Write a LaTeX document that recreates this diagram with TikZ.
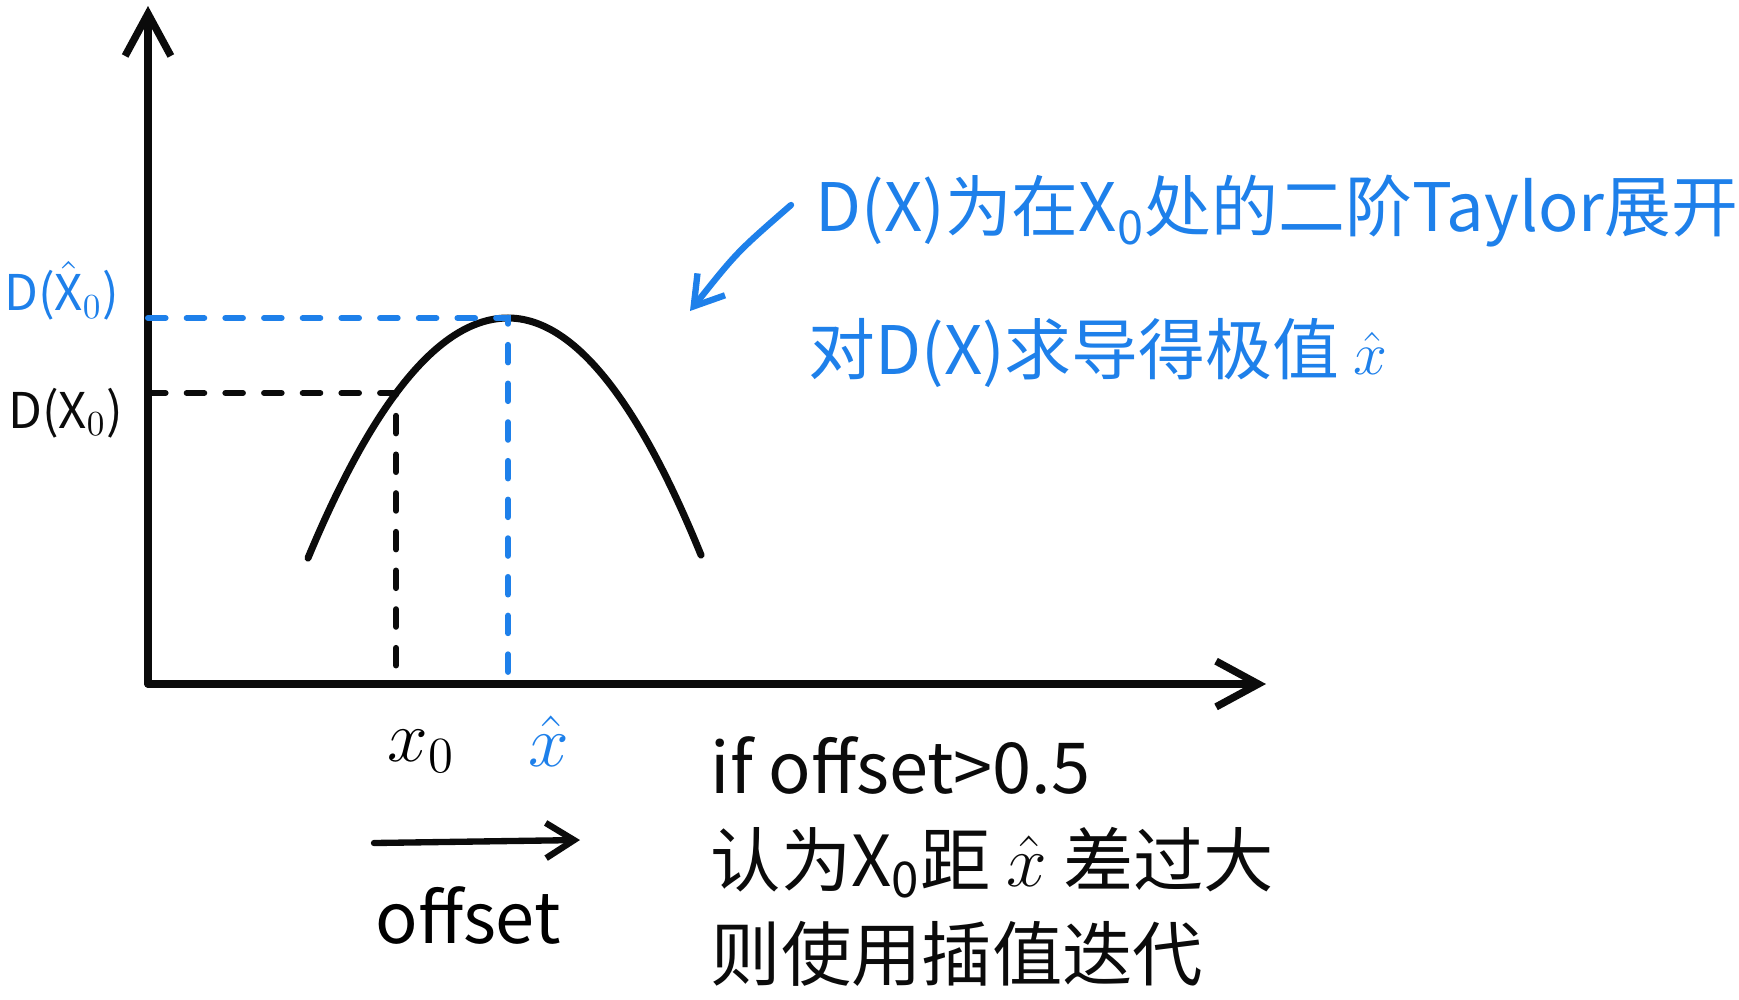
\documentclass[tikz,border=0pt]{standalone}
\usepackage{fontspec}
\setmainfont{Noto Sans CJK SC}
\usetikzlibrary{arrows.meta,positioning}
\definecolor{pen}{HTML}{0B0B0B}
\definecolor{hint}{HTML}{1E80EA}
\tikzset{
  axis/.style={-{Straight Barb[length=12pt,width=13pt]}, line width=2.1pt, draw=pen, line cap=round},
  curve/.style={line width=2pt, draw=pen, line cap=round},
  guide/.style={line width=1.7pt, dash pattern=on 5pt off 6pt, line cap=round},
  pointer/.style={-{Straight Barb[length=8pt,width=10pt]}, line width=1.8pt, line cap=round},
  tick/.style={font=\fontsize{14}{16}\selectfont, inner sep=1pt},
  note/.style={font=\fontsize{19}{22}\selectfont, text=hint, anchor=west, inner sep=0pt},
  rule/.style={font=\fontsize{20}{24}\selectfont, text=pen, anchor=west, inner sep=0pt},
}

\begin{document}
\begin{tikzpicture}[x=0.01cm, y=-0.01cm]
\useasboundingbox (0,0) rectangle (1739,999);

% --- axes -------------------------------------------------------------------------------
\coordinate (o) at (148,684);
\coordinate (ytop) at (148,6);
\coordinate (xend) at (1266,684);
\draw[axis] (o) -- (ytop);
\draw[axis] (o) -- (xend);

% --- the Taylor curve -------------------------------------------------------------------
\coordinate (left) at (308,558);
\coordinate (peak) at (508,318);
\coordinate (right) at (701,555);
\coordinate (p0) at (396,393);
\draw[curve] (left) .. controls (374.7,398) and (441.3,318) .. (peak)
  .. controls (572.3,318) and (636.7,397) .. (right);

% --- guide lines to the axes --------------------------------------------------------------
\draw[guide, draw=pen] (o |- p0) -- (p0) -- (p0 |- o);
\draw[guide, draw=hint] (o |- peak) -- (peak) -- (peak |- o);

% --- axis labels ------------------------------------------------------------------------
\node[tick, text=hint, anchor=west] (dhat) at (0,291) {D($\hat{\mathrm{X}}_0$)};
\node[tick, text=pen, anchor=west] (dx0) at (4,413) {D(X$_0$)};
\node[tick, font=\fontsize{22}{24}\selectfont] (x0) at (421,751) {$x_0$};
\node[tick, text=hint, font=\fontsize{22}{24}\selectfont] (xhat) at (549,741) {$\hat{x}$};

% --- offset -----------------------------------------------------------------------------
\coordinate (os) at (374,843);
\coordinate (oe) at (580,840);
\draw[pointer, draw=pen] (os) -- (oe);
\node[tick, font=\fontsize{20}{24}\selectfont] (offlab) at (468,915) {offset};

% --- notes ------------------------------------------------------------------------------
\node[note] (n1) at (815,211) {D(X)为在X\textsubscript{0}处的二阶Taylor展开};
\node[note] (n2) at (808,353) {对D(X)求导得极值 $\hat{x}$};
\coordinate (tail) at (791,205);
\coordinate (head) at (690,311);
\draw[pointer, draw=hint] (tail) .. controls (737,252) .. (head);

\node[rule] (r1) at (710,765) {if offset>0.5};
\node[rule] (r2) at (710,863) {认为X\textsubscript{0}距 $\hat{x}$ 差过大};
\node[rule] (r3) at (710,954) {则使用插值迭代};

\end{tikzpicture}
\end{document}
